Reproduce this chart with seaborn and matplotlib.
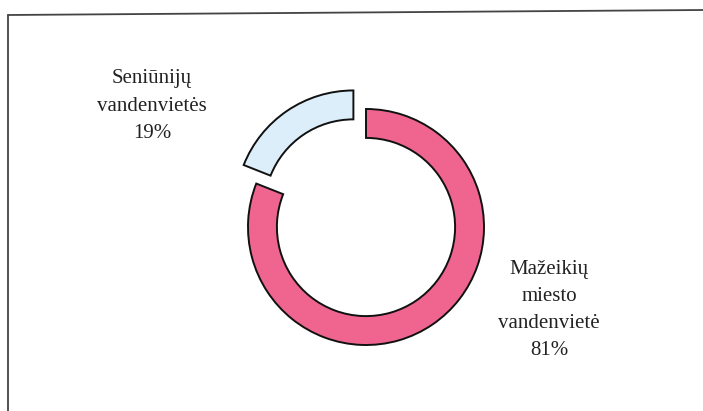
import matplotlib
matplotlib.use("Agg")
import matplotlib.pyplot as plt
import seaborn as sns
from matplotlib.lines import Line2D

sns.set_theme(style="white")
plt.rcParams['font.family'] = ['Liberation Serif', 'DejaVu Serif']

categories = ["Mažeikių\nmiesto\nvandenvietė", "Seniūnijų\nvandenvietės"]
values = [81, 19]
pct_labels = ["81%", "19%"]
colors = ["#EF6590", "#DCEEF9"]
explode = [0.0, 0.19]

W, H = 703, 411
fig = plt.figure(figsize=(W / 100, H / 100), dpi=100)
ax = fig.add_axes([0, 0, 1, 1])

R = 118.0
cx, cy = 366.0, H - 227.0

ax.pie(values, colors=colors, explode=explode, startangle=90, counterclock=False,
       radius=1.0, wedgeprops=dict(width=0.245, edgecolor='#111111', linewidth=1.4))

ax.set_xlim(-cx / R, (W - cx) / R)
ax.set_ylim(-cy / R, (H - cy) / R)
ax.set_aspect('auto')
ax.axis('off')

def px(x, y):
    return ((x - cx) / R, ((H - y) - cy) / R)

lx, ly = px(549, 310)
ax.text(lx, ly, categories[0] + "\n" + pct_labels[0], ha='center', va='center',
        fontsize=15, linespacing=1.55, color='#222222')
sx, sy = px(152, 106)
ax.text(sx, sy, categories[1] + "\n" + pct_labels[1], ha='center', va='center',
        fontsize=15, linespacing=1.6, color='#222222')

# frame lines (top and left)
fig.add_artist(Line2D([8 / W, 1.0], [1 - 15 / H, 1 - 10 / H], color='#444444', lw=1.3,
                      transform=fig.transFigure))
fig.add_artist(Line2D([8 / W, 8 / W], [1 - 15 / H, 0.0], color='#444444', lw=1.3,
                      transform=fig.transFigure))

fig.savefig("out.png", dpi=100, facecolor='white')
